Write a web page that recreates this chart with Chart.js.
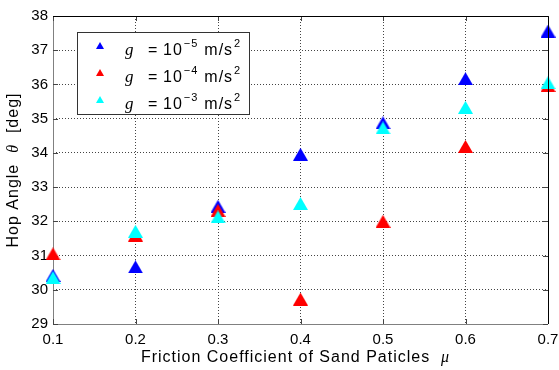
<!DOCTYPE html>
<html>
<head>
<meta charset="utf-8">
<script src="https://cdn.jsdelivr.net/npm/chart.js@4.4.0/dist/chart.umd.min.js"></script>
<style>
  html, body { margin: 0; padding: 0; background: #fff; }
  #wrap { width: 559px; height: 370px; }
</style>
</head>
<body>
<div id="wrap"><canvas id="chart"></canvas></div>
<script>
// friction coefficient (x) and hop angle [deg] for three gravities
const mu = [0.1, 0.2, 0.3, 0.4, 0.5, 0.6, 0.7];
const hopG5 = [30.42, 30.67, 32.44, 33.96, 34.88, 36.17, 37.56];
const hopG4 = [31.05, 31.60, 32.32, 29.73, 32.00, 34.19, 35.97];
const hopG3 = [30.36, 31.71, 32.13, 32.52, 34.73, 35.33, 36.05];

const xTicks = [0.1, 0.2, 0.3, 0.4, 0.5, 0.6, 0.7];
const yTicks = [29, 30, 31, 32, 33, 34, 35, 36, 37, 38];

const legendLabels = [
  { exp: '\u22125', color: '#0000ff' },
  { exp: '\u22124', color: '#ff0000' },
  { exp: '\u22123', color: '#00ffff' },
];

const FONT = '"Liberation Sans", Arial, sans-serif';
const SERIF = '"Liberation Serif", serif';

// MATLAB-like triangle marker, centred on its bounding box
function triangle(color, w, h) {
  const c = document.createElement('canvas');
  c.width = w;
  c.height = h;
  const g = c.getContext('2d');
  g.fillStyle = color;
  g.beginPath();
  g.moveTo(0, h);
  g.lineTo(w / 2, 0);
  g.lineTo(w, h);
  g.closePath();
  g.fill();
  return c;
}

const pts = (ys) => mu.map((x, i) => ({ x, y: ys[i] }));

// draw a run of [text, font] pieces starting at x, returns end x
function runText(ctx, parts, x, y) {
  parts.forEach(([t, f]) => {
    ctx.font = f;
    ctx.fillText(t, x, y);
    x += ctx.measureText(t).width;
  });
  return x;
}

function runWidth(ctx, parts) {
  let w = 0;
  parts.forEach(([t, f]) => { ctx.font = f; w += ctx.measureText(t).width; });
  return w;
}

// axes box with inward ticks
const frame = {
  id: 'frame',
  beforeDatasetsDraw(chart) {
    const { ctx, chartArea: a, scales: { x, y } } = chart;
    ctx.save();
    ctx.strokeStyle = '#808080';
    ctx.lineWidth = 1;
    ctx.beginPath();
    ctx.moveTo(a.left + 0.5, a.top);
    ctx.lineTo(a.left + 0.5, a.bottom + 0.5);
    ctx.lineTo(a.right, a.bottom + 0.5);
    ctx.stroke();
    ctx.strokeStyle = '#444';
    ctx.beginPath();
    xTicks.forEach((v) => {
      const px = Math.round(x.getPixelForValue(v)) + 0.5;
      ctx.moveTo(px, a.bottom);
      ctx.lineTo(px, a.bottom - 5);
      ctx.moveTo(px, a.top);
      ctx.lineTo(px, a.top + 5);
    });
    yTicks.forEach((v) => {
      const py = Math.round(y.getPixelForValue(v)) + 0.5;
      ctx.moveTo(a.left, py);
      ctx.lineTo(a.left + 5, py);
      ctx.moveTo(a.right, py);
      ctx.lineTo(a.right - 5, py);
    });
    ctx.stroke();
    ctx.restore();
  },
  afterDatasetsDraw(chart) {
    const { ctx, chartArea: a } = chart;
    ctx.save();
    ctx.strokeStyle = '#000';
    ctx.lineWidth = 1;
    ctx.beginPath();
    ctx.moveTo(a.left, a.top + 0.5);
    ctx.lineTo(a.right + 0.5, a.top + 0.5);
    ctx.lineTo(a.right + 0.5, a.bottom);
    ctx.stroke();
    ctx.restore();
  },
};

// axis titles with italic symbols
const titles = {
  id: 'titles',
  afterDraw(chart) {
    const { ctx, chartArea: a } = chart;
    ctx.save();
    ctx.fillStyle = '#000';
    ctx.textBaseline = 'middle';
    ctx.letterSpacing = '1px';

    const xParts = [
      ['Friction Coefficient of Sand Paticles  ', '16px ' + FONT],
      ['\u03bc', 'italic 16px ' + SERIF],
    ];
    const xw = runWidth(ctx, xParts);
    runText(ctx, xParts, (a.left + a.right) / 2 - xw / 2 - 5, 358);

    const yParts = [
      ['Hop Angle  ', '16px ' + FONT],
      ['\u03b8', 'italic 16px ' + SERIF],
      ['  [deg]', '16px ' + FONT],
    ];
    ctx.translate(14, (a.top + a.bottom) / 2);
    ctx.rotate(-Math.PI / 2);
    runText(ctx, yParts, -runWidth(ctx, yParts) / 2, 0);
    ctx.restore();
  },
};

// boxed legend with superscripts
const legendBox = {
  id: 'legendBox',
  afterDraw(chart) {
    const { ctx } = chart;
    ctx.save();
    ctx.fillStyle = '#fff';
    ctx.fillRect(77, 32, 173, 83);
    ctx.strokeStyle = '#333';
    ctx.lineWidth = 1;
    ctx.strokeRect(77.5, 32.5, 172, 82);
    ctx.textBaseline = 'alphabetic';
    ctx.letterSpacing = '1px';
    legendLabels.forEach((item, i) => {
      const cy = 46 + i * 27;
      ctx.drawImage(triangle(item.color, 8, 7), 96, cy - 4);
      const base = cy + 9;
      ctx.fillStyle = '#000';
      ctx.font = 'italic 17px ' + SERIF;
      ctx.fillText('g', 125, base);
      ctx.font = '16px ' + FONT;
      ctx.fillText('=', 148, base);
      let x = runText(ctx, [['10', '16px ' + FONT]], 163, base) + 1;
      x = runText(ctx, [[item.exp, '11px ' + FONT]], x, base - 8) + 6;
      x = runText(ctx, [['m/s', '16px ' + FONT]], x, base) + 1;
      runText(ctx, [['2', '11px ' + FONT]], x, base - 8);
    });
    ctx.restore();
  },
};

Chart.defaults.font.family = FONT;
Chart.defaults.font.size = 15;
Chart.defaults.color = '#000';

new Chart(document.getElementById('chart'), {
  type: 'scatter',
  data: {
    datasets: [
      { label: 'g = 1e-5', data: pts(hopG5), order: 2, pointStyle: triangle('#0000ff', 15, 13) },
      { label: 'g = 1e-4', data: pts(hopG4), order: 1, pointStyle: triangle('#ff0000', 15, 13) },
      { label: 'g = 1e-3', data: pts(hopG3), order: 0, pointStyle: triangle('#00ffff', 15, 13) },
    ].map((d) => ({ ...d, pointRadius: 8, clip: false })),
  },
  options: {
    responsive: true,
    maintainAspectRatio: false,
    animation: false,
    events: [],
    layout: { padding: { left: 0, right: 11, top: 16, bottom: 0 } },
    plugins: { legend: { display: false }, tooltip: { enabled: false } },
    scales: {
      x: {
        type: 'linear',
        min: 0.1,
        max: 0.7,
        afterBuildTicks: (s) => { s.ticks = xTicks.map((value) => ({ value })); },
        afterFit: (s) => { s.height = 46; s.paddingLeft = 0; s.paddingRight = 0; },
        ticks: { padding: 7, maxRotation: 0, callback: (v) => v.toFixed(1) },
        grid: { color: '#444', drawTicks: false },
        border: { display: false, dash: [1, 2] },
      },
      y: {
        min: 29,
        max: 38,
        afterBuildTicks: (s) => { s.ticks = yTicks.map((value) => ({ value })); },
        afterFit: (s) => { s.width = 53; s.paddingTop = 0; s.paddingBottom = 0; },
        ticks: { padding: 5 },
        grid: { color: '#444', drawTicks: false },
        border: { display: false, dash: [1, 2] },
      },
    },
  },
  plugins: [frame, titles, legendBox],
});
</script>
</body>
</html>
